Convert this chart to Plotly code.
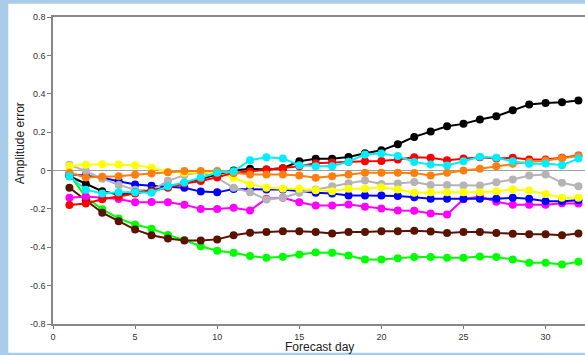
import plotly.graph_objects as go

days = list(range(1, 33))

black = [-0.03, -0.07, -0.108, -0.125, -0.115, -0.105, -0.085, -0.065, -0.045, -0.02,
         0.0, 0.009, 0.005, 0.012, 0.048, 0.061, 0.061, 0.07, 0.09, 0.105,
         0.137, 0.175, 0.203, 0.231, 0.243, 0.266, 0.283, 0.314, 0.344, 0.352, 0.356, 0.365]
red = [-0.18, -0.172, -0.15, -0.135, -0.12, -0.108, -0.09, -0.068, -0.055, -0.035,
       -0.012, -0.005, 0.005, 0.012, 0.022, 0.038, 0.042, 0.046, 0.048, 0.05,
       0.057, 0.069, 0.066, 0.054, 0.062, 0.069, 0.062, 0.066, 0.057, 0.057, 0.066, 0.078]
cyan = [-0.03, -0.1, -0.12, -0.113, -0.113, -0.116, -0.082, -0.062, -0.038, -0.012,
        -0.004, 0.054, 0.069, 0.062, 0.028, 0.022, 0.022, 0.046, 0.083, 0.088,
        0.075, 0.044, 0.031, 0.026, 0.048, 0.072, 0.066, 0.048, 0.035, 0.036, 0.028, 0.062]
orange = [-0.012, -0.036, -0.033, -0.03, -0.022, -0.016, -0.009, -0.003, -0.003, -0.003,
          -0.012, -0.021, -0.021, -0.021, -0.026, -0.038, -0.03, -0.021, -0.012, -0.012,
          -0.012, -0.013, -0.026, -0.012, 0.0, 0.009, 0.022, 0.035, 0.045, 0.052, 0.064, 0.075]
gray = [0.03, -0.003, -0.043, -0.075, -0.1, -0.104, -0.054, -0.024, -0.009, -0.038,
        -0.09, -0.113, -0.151, -0.142, -0.116, -0.099, -0.082, -0.066, -0.052, -0.07,
        -0.068, -0.06, -0.076, -0.076, -0.078, -0.078, -0.061, -0.047, -0.026, -0.021, -0.064, -0.082]
yellow = [0.024, 0.03, 0.032, 0.031, 0.028, 0.014, -0.007, -0.012, -0.012, -0.009,
          -0.038, -0.073, -0.09, -0.095, -0.095, -0.103, -0.108, -0.095, -0.095, -0.087,
          -0.099, -0.116, -0.113, -0.113, -0.113, -0.113, -0.108, -0.099, -0.104, -0.122, -0.142, -0.142]
blue = [-0.018, -0.027, -0.038, -0.056, -0.073, -0.08, -0.085, -0.09, -0.11, -0.114,
        -0.097, -0.099, -0.099, -0.099, -0.108, -0.116, -0.12, -0.13, -0.13, -0.13,
        -0.133, -0.139, -0.147, -0.147, -0.147, -0.147, -0.147, -0.142, -0.147, -0.16, -0.16, -0.155]
magenta = [-0.142, -0.136, -0.142, -0.149, -0.165, -0.164, -0.165, -0.178, -0.2, -0.2,
           -0.194, -0.208, -0.147, -0.142, -0.165, -0.182, -0.182, -0.177, -0.189, -0.198,
           -0.208, -0.21, -0.224, -0.229, -0.15, -0.136, -0.163, -0.178, -0.178, -0.178, -0.171, -0.172]
brown = [-0.09, -0.155, -0.22, -0.264, -0.308, -0.337, -0.354, -0.365, -0.365, -0.359,
         -0.337, -0.325, -0.321, -0.316, -0.316, -0.32, -0.328, -0.321, -0.32, -0.316,
         -0.316, -0.314, -0.318, -0.326, -0.321, -0.321, -0.326, -0.33, -0.332, -0.332, -0.337, -0.328]
green = [-0.02, -0.14, -0.202, -0.25, -0.281, -0.303, -0.336, -0.362, -0.395, -0.418,
         -0.429, -0.446, -0.455, -0.45, -0.438, -0.427, -0.429, -0.443, -0.464, -0.464,
         -0.457, -0.451, -0.451, -0.455, -0.455, -0.448, -0.451, -0.464, -0.481, -0.481, -0.49, -0.476]

series = [
    ("green", green, "#00ff00"),
    ("brown", brown, "#5c1200"),
    ("magenta", magenta, "#ff00ff"),
    ("blue", blue, "#0000ff"),
    ("gray", gray, "#b4b4b4"),
    ("yellow", yellow, "#ffff00"),
    ("black", black, "#000000"),
    ("red", red, "#ff0000"),
    ("orange", orange, "#ff7f0e"),
    ("cyan", cyan, "#00eeff"),
]

y_ticks = [-0.8, -0.6, -0.4, -0.2, 0, 0.2, 0.4, 0.6, 0.8]
y_labels = ["-0.8", "-0.6", "-0.4", "-0.2", "0", "0.2", "0.4", "0.6", "0.8"]
x_ticks = [0, 5, 10, 15, 20, 25, 30]

fig = go.Figure()
for name, vals, col in series:
    fig.add_trace(go.Scatter(
        x=days, y=vals, mode="lines+markers", name=name,
        line=dict(color=col, width=2),
        marker=dict(color=col, size=8, line=dict(width=0)),
        showlegend=False, cliponaxis=False,
    ))

axis_font = dict(family="Liberation Sans, Arial, sans-serif", size=9, color="#333333")

fig.update_layout(
    width=585, height=355,
    margin=dict(l=53, r=0, t=17, b=31, autoexpand=False),
    paper_bgcolor="#a9cde8",
    plot_bgcolor="white",
    xaxis=dict(
        range=[0, 32.4], tickvals=x_ticks, ticks="outside", ticklen=3,
        tickcolor="#777777", showline=True, linecolor="#888888", linewidth=1.5,
        mirror=True, showgrid=False, zeroline=False, tickfont=axis_font,
        automargin=False,
    ),
    yaxis=dict(
        range=[-0.8, 0.8], tickvals=y_ticks, ticktext=y_labels, ticks="outside",
        ticklen=4, tickcolor="#777777", showline=True, linecolor="#888888",
        linewidth=1.5, showgrid=False, zeroline=True, zerolinecolor="#a0a0a0",
        zerolinewidth=1, tickfont=axis_font, automargin=False,
    ),
    shapes=[dict(
        type="rect", xref="paper", yref="paper",
        x0=-0.084, x1=1.05, y0=-0.094, y1=1.043,
        fillcolor="white", line=dict(width=0), layer="below",
    )],
    annotations=[
        dict(text="Forecast day", xref="paper", yref="paper", x=0.5, y=-0.075,
             xanchor="center", yanchor="middle", showarrow=False,
             font=dict(family="Liberation Sans, Arial, sans-serif", size=12, color="#222222")),
        dict(text="Amplitude error", xref="paper", yref="paper", x=-0.0614, y=0.59,
             xanchor="center", yanchor="middle", showarrow=False, textangle=-90,
             font=dict(family="Liberation Sans, Arial, sans-serif", size=12, color="#222222")),
    ],
)

fig.write_html(
    "out.html",
    config={"displayModeBar": False},
    post_script="document.body.style.margin='0';document.body.style.overflow='hidden';"
                "document.body.style.background='#a9cde8';",
)
